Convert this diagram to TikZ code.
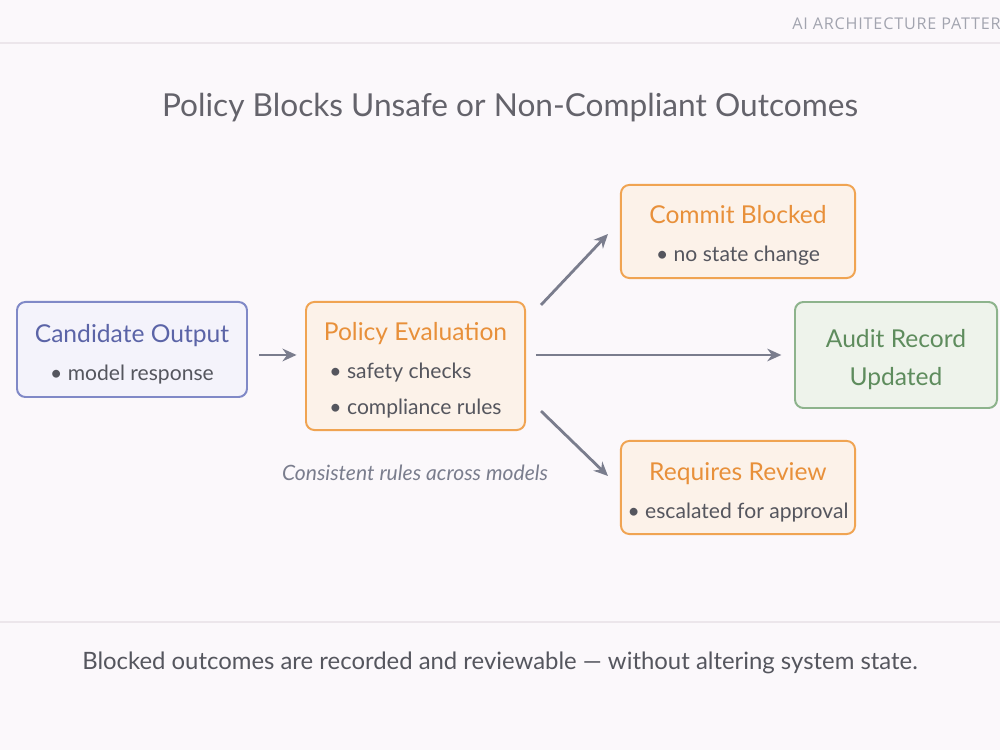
\documentclass[tikz,border=0pt]{standalone}
\usepackage{fontspec}
\setmainfont{Lato}
\newfontfamily\hdrfont[LetterSpace=5]{Open Sans}
\usetikzlibrary{arrows.meta,positioning}
\definecolor{pagebg}{HTML}{FBF8FB}
\definecolor{rulex}{HTML}{ECE6EB}
\definecolor{inkx}{HTML}{55565E}
\definecolor{titlex}{HTML}{64636B}
\definecolor{greyx}{HTML}{7A7D8D}
\definecolor{bluex}{HTML}{8089C7}
\definecolor{bluebg}{HTML}{F4F3FB}
\definecolor{bluetxt}{HTML}{5B64A7}
\definecolor{orangex}{HTML}{F0A452}
\definecolor{orangebg}{HTML}{FCF2E9}
\definecolor{orangetxt}{HTML}{E8903A}
\definecolor{greenx}{HTML}{8DB38C}
\definecolor{greenbg}{HTML}{EEF3EB}
\definecolor{greentxt}{HTML}{5E8C5D}
\tikzset{
  ar/.style={-{Stealth[length=10pt,width=9pt]},line width=2pt,greyx},
  box/.style={draw,rounded corners=6pt,line width=1.4pt,align=center,inner sep=0pt,
    font=\fontsize{15}{27}\selectfont,text=inkx},
  bluebox/.style={box,draw=bluex,fill=bluebg},
  orangebox/.style={box,draw=orangex,fill=orangebg},
  greenbox/.style={box,draw=greenx,fill=greenbg}
}
\newcommand{\boxhead}[2]{{\fontsize{17.5}{27}\selectfont\color{#1}\rule{0pt}{19pt}#2}}
\begin{document}
\begin{tikzpicture}[x=0.25mm,y=-0.25mm]
\useasboundingbox (0,0) rectangle (1000,750);
\clip (0,0) rectangle (1000,750);
\fill[pagebg] (0,0) rectangle (1000,750);
% header and footer rules
\draw[rulex,line width=1pt] (0,43) -- (1000,43);
\draw[rulex,line width=1pt] (0,622) -- (1000,622);
\node[anchor=west,inner sep=0pt,text=greyx!70] (hdr) at (792,24)
  {\hdrfont\fontsize{11.5}{14}\selectfont AI ARCHITECTURE PATTERN};
\node[inner sep=0pt,text=titlex] (title) at (510,108)
  {\fontsize{22.5}{28}\selectfont Policy Blocks Unsafe or Non-Compliant Outcomes};
% boxes (sizes in pt: 1px = 0.711pt)
\node[bluebox,minimum width=163.6pt,minimum height=67.6pt] (cand) at (132,349.5)
  {\boxhead{bluetxt}{Candidate Output}\\ • model response};
\node[orangebox,minimum width=155.8pt,minimum height=91.1pt] (policy) at (415.5,366)
  {\boxhead{orangetxt}{Policy Evaluation}\\
   \rlap{• safety checks}\phantom{• compliance rules}\\[-1.5pt]
   • compliance rules};
\node[orangebox,minimum width=166.5pt,minimum height=66.2pt] (commit) at (738,231.5)
  {\boxhead{orangetxt}{Commit Blocked}\\ • no state change};
\node[greenbox,minimum width=143.7pt,minimum height=75.4pt] (audit) at (896,355)
  {\boxhead{greentxt}{Audit Record}\\ \boxhead{greentxt}{Updated}};
\node[orangebox,minimum width=166.5pt,minimum height=66.2pt] (review) at (738,487.5)
  {\boxhead{orangetxt}{Requires Review}\\ • escalated for approval};
% connectors
\draw[ar,shorten <=8pt,shorten >=6pt] ([yshift=-3.9pt]cand.east) -- ([yshift=-3.9pt]cand.east -| policy.west);
\draw[ar] ([shift={(15,4)}]policy.north east) -- ([shift={(-12,-45)}]commit.south west);
\draw[ar,shorten <=7pt,shorten >=9pt] (policy.east |- audit.west) -- (audit.west);
\draw[ar] ([shift={(15,-20)}]policy.south east) -- ([shift={(-12,36)}]review.north west);
\node[text=greyx,inner sep=0pt] (note) at (415,473)
  {\fontsize{15}{18}\selectfont\itshape Consistent rules across models};
\node[text=inkx,inner sep=0pt] (foot) at (500,663)
  {\fontsize{17}{20}\selectfont Blocked outcomes are recorded and reviewable — without altering system state.};
\end{tikzpicture}
\end{document}
